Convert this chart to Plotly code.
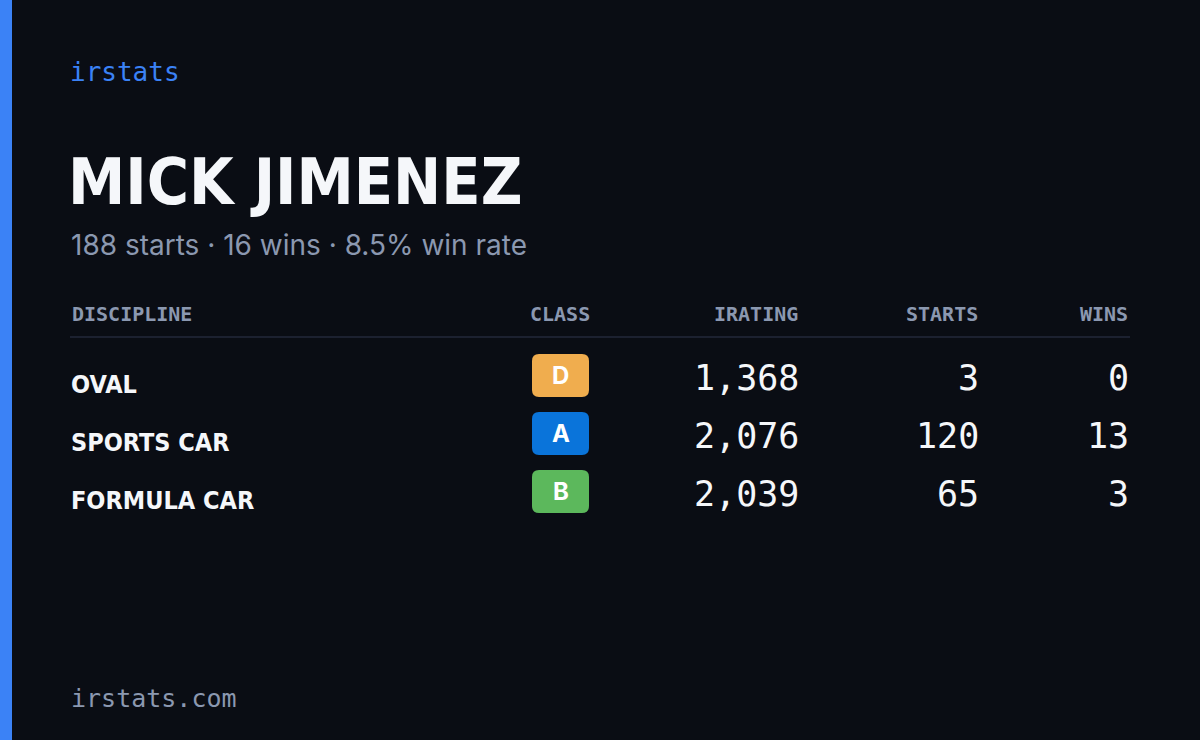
import plotly.graph_objects as go

disciplines = ["OVAL", "SPORTS CAR", "FORMULA CAR"]
classes = ["D", "A", "B"]
class_colors = ["#f0ad4e", "#0a74da", "#5cb85c"]
iratings = [1368, 2076, 2039]
starts = [3, 120, 65]
wins = [0, 13, 3]
headers = ["DISCIPLINE", "CLASS", "IRATING", "STARTS", "WINS"]
name = "MICK JIMENEZ"
total_starts, total_wins = 188, 16

BG = "#0a0d14"
GRAY = "#8b98b0"
MONO = "DejaVu Sans Mono"
COND = "DejaVu Sans Condensed, Roboto"

fig = go.Figure()
ann = []
shapes = []

def A(x, y, text, size, color, family, anchor="left", bold=False):
    if bold:
        text = "<b>" + text + "</b>"
    ann.append(dict(x=x, y=y, xref="x", yref="y", text=text, showarrow=False,
                    xanchor=anchor, yanchor="middle",
                    font=dict(size=size, color=color, family=family)))

def rrect(x0, y0, x1, y1, r):
    return (f"M{x0+r},{y0} L{x1-r},{y0} Q{x1},{y0} {x1},{y0+r} L{x1},{y1-r} Q{x1},{y1} {x1-r},{y1} "
            f"L{x0+r},{y1} Q{x0},{y1} {x0},{y1-r} L{x0},{y0+r} Q{x0},{y0} {x0+r},{y0} Z")

shapes.append(dict(type="rect", xref="x", yref="y", x0=0, x1=12, y0=0, y1=740,
                   fillcolor="#3b82f6", line_width=0))
A(68, 72, "irstats", 26, "#3b82f6", MONO)
A(66, 182, name, 64, "#f5f7fa", COND, bold=True)
rate = 100 * total_wins / total_starts
A(69, 245, f"{total_starts} starts · {total_wins} wins · {rate:.1f}% win rate", 28, GRAY, "Inter")

hx = [(70, "left"), (560, "center"), (800, "right"), (980, "right"), (1130, "right")]
for (x, an), h in zip(hx, headers):
    A(x, 314, h, 20, GRAY, MONO, bold=True)
    ann[-1]["xanchor"] = an
shapes.append(dict(type="line", xref="x", yref="y", x0=70, x1=1130, y0=337, y1=337,
                   line=dict(color="#1c2130", width=2)))

ys = [378, 436, 494]
for i, y in enumerate(ys):
    A(69, y + 6, disciplines[i], 25, "#f5f7fa", COND, bold=True)
    shapes.append(dict(type="path", xref="x", yref="y", path=rrect(532, y - 24, 589, y + 19, 7),
                       fillcolor=class_colors[i], line_width=0, layer="below"))
    A(560.5, y - 3, classes[i], 24, "#ffffff", "Inter", anchor="center", bold=True)
    A(801, y, f"{iratings[i]:,}", 35, "#f5f7fa", MONO, anchor="right")
    A(981, y, str(starts[i]), 35, "#f5f7fa", MONO, anchor="right")
    A(1131, y, str(wins[i]), 35, "#f5f7fa", MONO, anchor="right")

A(69, 698, "irstats.com", 25, GRAY, MONO)

fig.update_layout(width=1200, height=740, margin=dict(l=0, r=0, t=0, b=0),
                  paper_bgcolor=BG, plot_bgcolor=BG, annotations=ann, shapes=shapes,
                  xaxis=dict(range=[0, 1200], visible=False, fixedrange=True),
                  yaxis=dict(range=[740, 0], visible=False, fixedrange=True),
                  showlegend=False)
fig.write_html("out.html", config={"displayModeBar": False})
with open("out.html") as f:
    html = f.read()
html = html.replace("<body>", '<body style="margin:0;background:#0a0d14">', 1)
with open("out.html", "w") as f:
    f.write(html)
